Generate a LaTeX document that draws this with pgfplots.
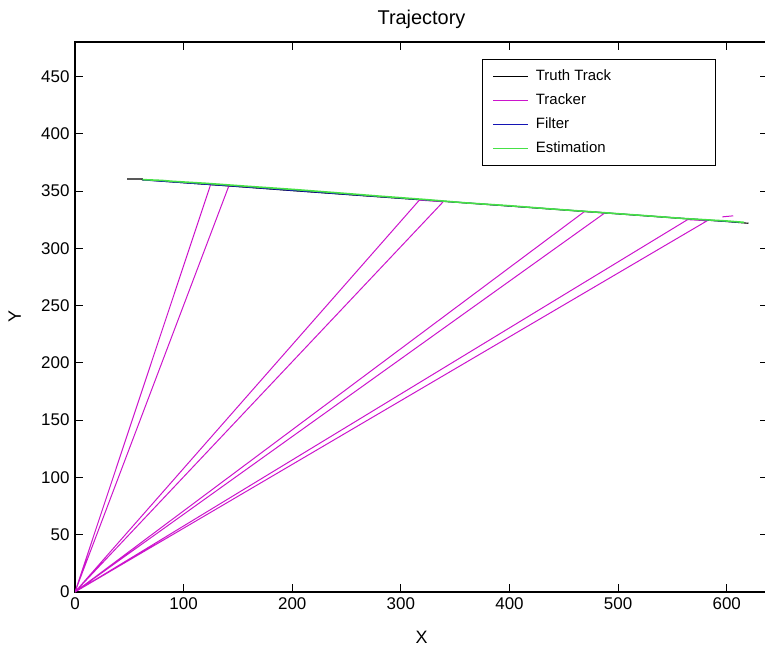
\documentclass[border=0pt]{standalone}
\usepackage{fontspec}
\setmainfont{Liberation Sans}
\usepackage{pgfplots}
\pgfplotsset{compat=1.18}
\definecolor{trk}{RGB}{204,20,204}
\definecolor{est}{RGB}{70,225,70}
\definecolor{flt}{RGB}{20,20,180}

\begin{document}
\begin{tikzpicture}
\begin{axis}[scale only axis,width=693bp,height=550bp,
  at={(0,0)},anchor=south west,
  xmin=0,xmax=638,ymin=0,ymax=480,
  xtick={0,100,...,600},ytick={0,50,...,450},
  tick align=inside,major tick length=8bp,
  axis line style={line width=1.2pt},
  every tick/.style={black,line width=0.9pt},
  /pgf/number format/assume math mode=true,
  ticklabel style={font=\fontsize{17}{17}\selectfont},
  yticklabel style={xshift=-2bp},
  xticklabel style={yshift=-2bp},
  title={Trajectory},
  title style={font=\fontsize{20}{20}\selectfont,at={(axis description cs:0.5,1.03)},anchor=center},
  xlabel={X},ylabel={Y},
  label style={font=\fontsize{18}{18}\selectfont},
  xlabel style={at={(axis description cs:0.5,-0.082)},anchor=center},
  ylabel style={at={(axis description cs:-0.087,0.5)},anchor=center},
  unbounded coords=jump,
  legend image code/.code={\draw[#1] (0bp,0bp) -- (35bp,0bp);},
  legend style={at={(rel axis cs:0.587,0.969)},anchor=north west,
    draw=black,line width=1pt,inner xsep=10bp,inner ysep=8bp,row sep=6bp,column sep=5bp,
    font=\fontsize{15}{15}\selectfont,
    nodes={text height=11bp,text depth=3bp}},
  legend cell align=left]
% truth track
\addplot[black,line width=1.1pt] coordinates {(48,360.4)(62,360.4)(62,359.8)(100,357.2)(150,353.8)
  (200,350.3)(250,346.9)(300,343.5)(350,340.2)(400,336.8)(450,333.4)(500,330.0)(550,326.6)
  (600,323.3)(612,322.4)(620,321.8)};
\addlegendentry{\makebox[168bp][l]{Truth Track}}
% tracker
\addplot[trk,line width=1.0pt] coordinates {(0,0)(125,356)(142,355.3)(0,0)(317,342)(339,340.6)(0,0)
  (469,332)(488,331)(0,0)(564,325)(582,324)(0,0)(nan,nan)(596,327.4)(606,328.3)};
\addlegendentry{Tracker}
% filter
\addplot[flt,line width=1.0pt] coordinates {(62,359.6)(150,353.9)(250,347.0)(350,340.3)(450,333.5)
  (550,326.7)(612,322.6)};
\addlegendentry{Filter}
% estimation
\addplot[est,line width=1.6pt] coordinates {(62,359.9)(80,359.2)(90,358.4)(120,356.7)(160,354.0)
  (200,351.4)(240,348.5)(280,345.5)(320,342.7)(360,339.6)(400,337.1)(440,334.2)(480,331.5)
  (520,328.8)(560,326.0)(600,323.8)(616,322.6)};
\addlegendentry{Estimation}
\end{axis}
\pgfresetboundingbox
\useasboundingbox (-75bp,-56bp) rectangle (690bp,592bp);
\end{tikzpicture}
\end{document}
